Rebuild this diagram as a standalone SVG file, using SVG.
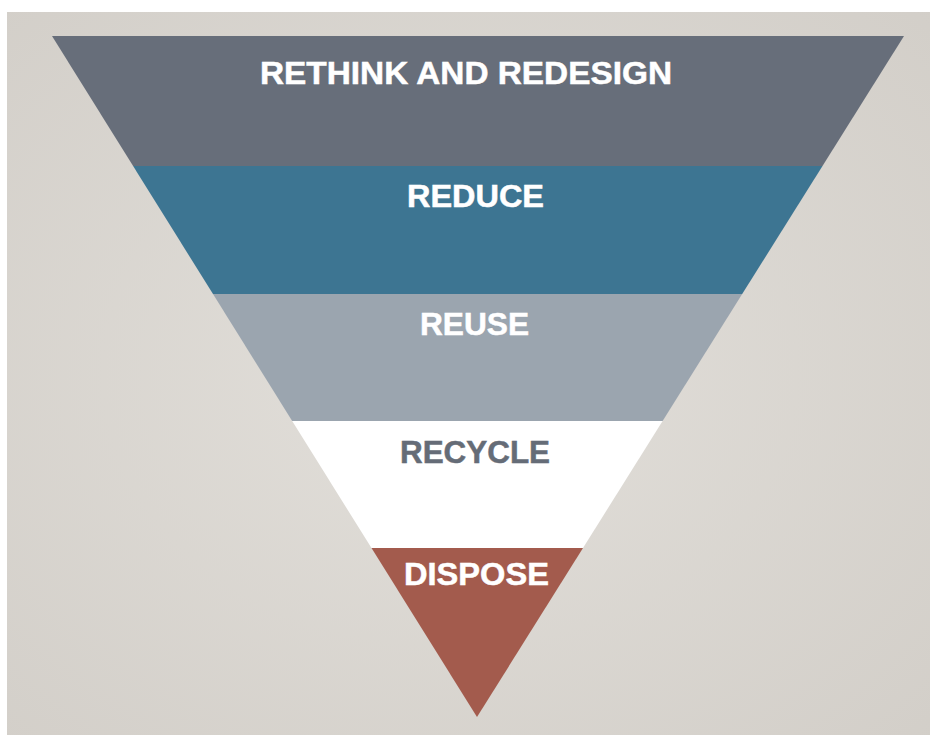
<svg xmlns="http://www.w3.org/2000/svg" width="930" height="735" viewBox="0 0 930 735">
  <defs>
    <radialGradient id="bg" cx="0.48" cy="0.5" r="0.75">
      <stop offset="0" stop-color="#e2dfda"/>
      <stop offset="1" stop-color="#d2cec8"/>
    </radialGradient>
  </defs>
  <style>
    .lbl { font-family: "Liberation Sans", Arial, sans-serif; font-weight: bold; font-size: 31px; text-anchor: middle; stroke-width: 0.5; }
    .light { fill: #ffffff; stroke: #ffffff; }
    .dark { fill: #656c77; stroke: #656c77; }
  </style>
  <rect x="0" y="0" width="930" height="735" fill="#ffffff"/>
  <rect x="7" y="12" width="923" height="723" fill="url(#bg)"/>

  <g id="rethink">
    <polygon points="52,36 904,36 822.5,166 133.1,166" fill="#676e7a"/>
    <text class="lbl light" x="466" y="84" textLength="412" lengthAdjust="spacingAndGlyphs">RETHINK AND REDESIGN</text>
  </g>
  <g id="reduce">
    <polygon points="133.1,166 822.5,166 742.2,294 213,294" fill="#3d7592"/>
    <text class="lbl light" x="475.5" y="207" textLength="137" lengthAdjust="spacingAndGlyphs">REDUCE</text>
  </g>
  <g id="reuse">
    <polygon points="213,294 742.2,294 662.6,421 292.2,421" fill="#9ba5af"/>
    <text class="lbl light" x="474.5" y="335" textLength="109" lengthAdjust="spacingAndGlyphs">REUSE</text>
  </g>
  <g id="recycle">
    <polygon points="292.2,421 662.6,421 583,548 371.5,548" fill="#ffffff"/>
    <text class="lbl dark" x="475" y="463" textLength="150" lengthAdjust="spacingAndGlyphs">RECYCLE</text>
  </g>
  <g id="dispose">
    <polygon points="371.5,548 583,548 477,717" fill="#a35b4d"/>
    <text class="lbl light" x="476.5" y="585" textLength="145" lengthAdjust="spacingAndGlyphs">DISPOSE</text>
  </g>
</svg>
